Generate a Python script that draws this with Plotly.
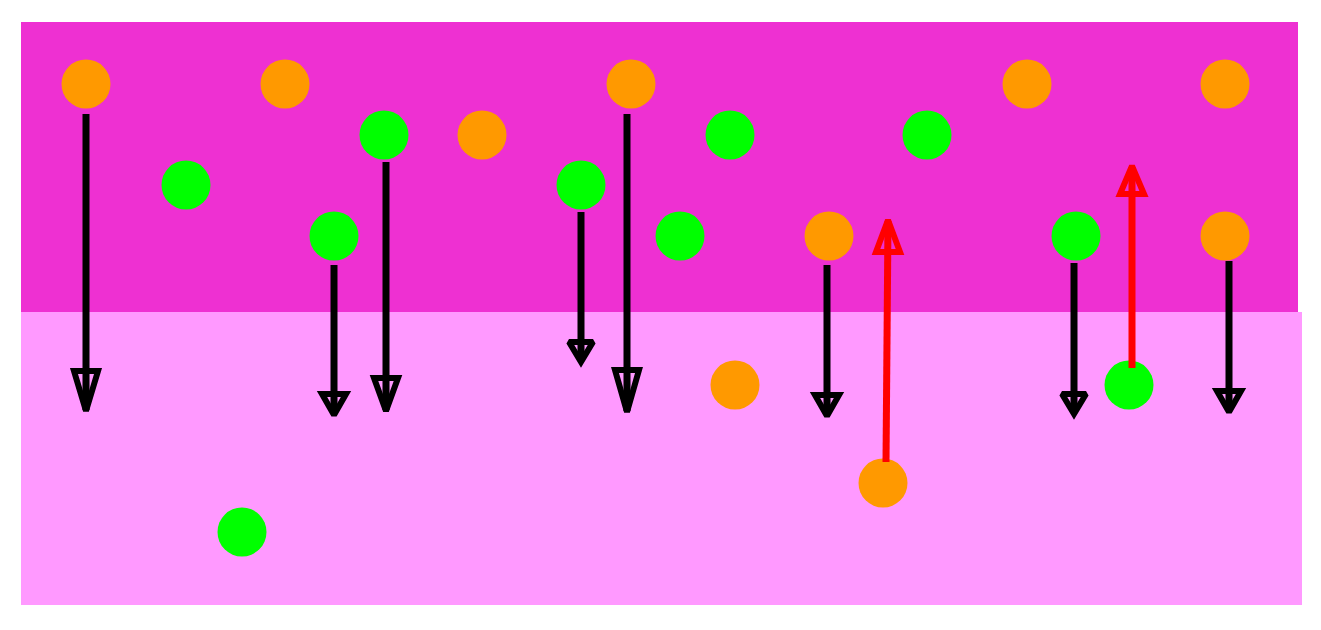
import plotly.graph_objects as go

# ---- data (plot units: x to the right, y upward) ----
band_x0 = [0, 0]
band_x1 = [1277, 1281]
band_y0 = [293, -1]
band_y1 = [583, 293]
band_colors = ["#EE30D2", "#FF99FF"]

orange_x = [65, 264, 461, 610, 1006, 1204, 808, 714, 862, 1204]
orange_y = [521, 521, 470, 521, 521, 521, 369, 220, 122, 369]

green_x = [165, 363, 313, 560, 709, 906, 659, 1055, 1108, 221]
green_y = [420, 470, 369, 420, 470, 470, 369, 369, 220, 73]

arrow_x0 = [65, 313, 365, 560, 606, 806, 1053, 1208, 865, 1111]
arrow_x1 = [65, 313, 365, 560, 606, 806, 1053, 1208, 867, 1111]
arrow_y0 = [491, 340, 443, 393, 491, 340, 342, 344, 143, 237]
arrow_y1 = [193, 189, 193, 242, 192, 188, 190, 192, 386, 440]
arrow_head = [44, 25, 37, 24, 46, 25, 24, 25, 36, 32]
arrow_color = ["black"] * 8 + ["#FF0000", "#FF0000"]

HEAD_HALF = 12
HEAD_STROKE = 6
SHAFT_WIDTH = 7

fig = go.Figure()

for x0, x1, y0, y1, c in zip(band_x0, band_x1, band_y0, band_y1, band_colors):
    fig.add_shape(type="rect", xref="x", yref="y", x0=x0, x1=x1, y0=y0, y1=y1,
                  fillcolor=c, line=dict(width=0), layer="below")

fig.add_trace(go.Scatter(x=orange_x, y=orange_y, mode="markers",
                         marker=dict(size=49, color="#FF9900", line=dict(width=0)),
                         hoverinfo="skip"))
fig.add_trace(go.Scatter(x=green_x, y=green_y, mode="markers",
                         marker=dict(size=49, color="#00FF00", line=dict(width=0)),
                         hoverinfo="skip"))

d = HEAD_STROKE / 2.0
for x0, x1, y0, y1, L, c in zip(arrow_x0, arrow_x1, arrow_y0, arrow_y1, arrow_head, arrow_color):
    s = 1 if y1 > y0 else -1
    tip_c = y1 - s * 1
    base_c = y1 - s * (L - d)
    # shaft
    fig.add_trace(go.Scatter(x=[x0, x1], y=[y0, y1 - s * 2], mode="lines",
                             line=dict(color=c, width=SHAFT_WIDTH), hoverinfo="skip"))
    # open triangular head (path repeats first edge so every corner is joined)
    fig.add_trace(go.Scatter(
        x=[x1 - HEAD_HALF, x1, x1 + HEAD_HALF, x1 - HEAD_HALF, x1],
        y=[base_c, tip_c, base_c, base_c, tip_c], mode="lines",
        line=dict(color=c, width=HEAD_STROKE), hoverinfo="skip"))

fig.update_layout(
    width=1313, height=622,
    margin=dict(l=13, r=19, t=14, b=25),
    paper_bgcolor="white", plot_bgcolor="white",
    showlegend=False,
    xaxis=dict(range=[0, 1281], visible=False, fixedrange=True),
    yaxis=dict(range=[0, 583], visible=False, fixedrange=True),
)

fig.write_html("out.html")
